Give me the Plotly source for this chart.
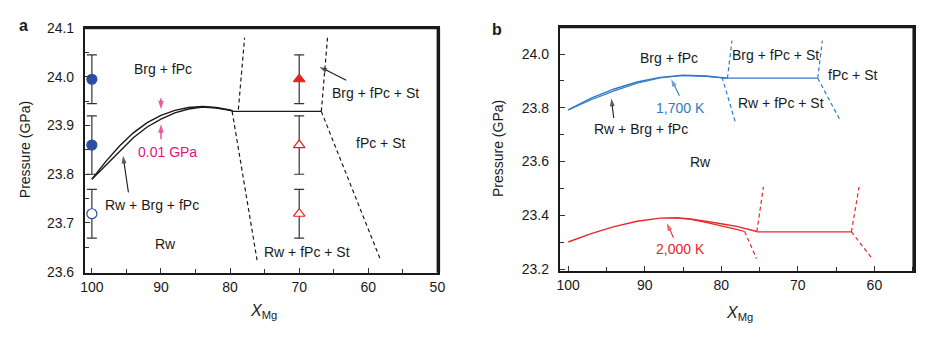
import plotly.graph_objects as go

# ---------------- Panel a data ----------------
A_CURVE_X = [100, 98, 96, 94, 92, 90, 88, 86, 84, 82, 80, 79.6]
A_UPPER_Y = [23.790, 23.826, 23.858, 23.885, 23.906, 23.921, 23.931, 23.937, 23.939, 23.937, 23.932, 23.930]
A_LOWER_Y = [23.790, 23.818, 23.848, 23.875, 23.897, 23.913, 23.926, 23.934, 23.938, 23.936, 23.931, 23.929]
A_FLAT_X = [79.6, 66.8]
A_FLAT_Y = [23.929, 23.929]
A_DASH = [  # (x0, y0, x1, y1)
    (78.8, 23.933, 77.9, 24.080),
    (79.7, 23.929, 76.1, 23.624),
    (66.8, 23.929, 65.9, 24.080),
    (66.8, 23.929, 58.3, 23.627),
]
A_BRG_X = [100, 100]
A_BRG_Y = [23.995, 23.860]
A_BRG_ERR = [0.050, 0.060]
A_RW_X = [100]
A_RW_Y = [23.719]
A_RW_ERR = [0.050]
A_ST_X = [70]
A_ST_Y = [23.995]
A_ST_ERR = [0.050]
A_NOST_X = [70, 70]
A_NOST_Y = [23.860, 23.719]
A_NOST_ERR = [0.060, 0.050]

# ---------------- Panel b data ----------------
B_BLUE_X = [100, 97, 94, 91, 88, 85, 82, 80, 79.2]
B_BLUE_UP = [23.792, 23.836, 23.870, 23.896, 23.913, 23.921, 23.918, 23.912, 23.910]
B_BLUE_LO = [23.792, 23.830, 23.863, 23.891, 23.911, 23.920, 23.917, 23.912, 23.910]
B_BLUE_FLAT_X = [79.2, 67.4]
B_BLUE_FLAT_Y = [23.910, 23.910]
B_BLUE_DASH = [
    (79.2, 23.910, 78.6, 24.050),
    (79.9, 23.914, 78.2, 23.750),
    (67.4, 23.910, 66.8, 24.050),
    (67.4, 23.910, 64.4, 23.750),
]
B_RED_UP_X = [100, 97, 94, 91, 88, 86, 84, 82, 80, 78, 76.5, 75.35]
B_RED_UP_Y = [23.301, 23.332, 23.358, 23.378, 23.390, 23.391, 23.387, 23.379, 23.369, 23.359, 23.348, 23.340]
B_RED_LO_X = [86, 84, 82, 80, 78, 76.95]
B_RED_LO_Y = [23.391, 23.385, 23.374, 23.362, 23.348, 23.340]
B_RED_FLAT_X = [75.35, 63.0]
B_RED_FLAT_Y = [23.339, 23.339]
B_RED_DASH = [
    (75.35, 23.340, 74.5, 23.506),
    (76.95, 23.340, 75.4, 23.240),
    (63.0, 23.339, 62.0, 23.506),
    (63.0, 23.339, 60.2, 23.236),
]

BLACK = "#1a1a1a"
BLUE_PT = "#2b4ea2"
RED_PT = "#e3231f"
BLUE_LN = "#2f7ac6"
RED_LN = "#e8262a"
MAGENTA = "#e0157a"
FONT = "Liberation Sans, Arial, sans-serif"
DASH = "4px,3px"

fig = go.Figure()

def line(x, y, color, xa, ya, width=1.3, dash=None):
    fig.add_trace(go.Scatter(x=x, y=y, mode="lines", xaxis=xa, yaxis=ya,
                             line=dict(color=color, width=width, dash=dash),
                             hoverinfo="skip", showlegend=False))

# Panel a lines
line(A_CURVE_X, A_UPPER_Y, BLACK, "x", "y", 1.4)
line(A_CURVE_X, A_LOWER_Y, BLACK, "x", "y", 1.4)
line(A_FLAT_X, A_FLAT_Y, BLACK, "x", "y", 1.4)
for x0, y0, x1, y1 in A_DASH:
    line([x0, x1], [y0, y1], BLACK, "x", "y", 1.2, DASH)

def pts(x, y, err, symbol, fill, edge):
    fig.add_trace(go.Scatter(x=x, y=y, mode="markers", xaxis="x", yaxis="y",
                             marker=dict(symbol=symbol, size=10, color=fill,
                                         line=dict(color=edge, width=1.2)),
                             error_y=dict(type="data", array=err, visible=True,
                                          color="#333333", thickness=1.2, width=5),
                             hoverinfo="skip", showlegend=False))

pts(A_BRG_X, A_BRG_Y, A_BRG_ERR, "circle", BLUE_PT, BLUE_PT)
pts(A_RW_X, A_RW_Y, A_RW_ERR, "circle", "white", BLUE_PT)
pts(A_ST_X, A_ST_Y, A_ST_ERR, "triangle-up", RED_PT, RED_PT)
pts(A_NOST_X, A_NOST_Y, A_NOST_ERR, "triangle-up", "white", RED_PT)

# Panel b lines
line(B_BLUE_X, B_BLUE_UP, BLUE_LN, "x2", "y2", 1.4)
line(B_BLUE_X, B_BLUE_LO, BLUE_LN, "x2", "y2", 1.1)
line(B_BLUE_FLAT_X, B_BLUE_FLAT_Y, BLUE_LN, "x2", "y2", 1.3)
for x0, y0, x1, y1 in B_BLUE_DASH:
    line([x0, x1], [y0, y1], BLUE_LN, "x2", "y2", 1.2, DASH)
line(B_RED_UP_X, B_RED_UP_Y, RED_LN, "x2", "y2", 1.4)
line(B_RED_LO_X, B_RED_LO_Y, RED_LN, "x2", "y2", 1.1)
line(B_RED_FLAT_X, B_RED_FLAT_Y, RED_LN, "x2", "y2", 1.3)
for x0, y0, x1, y1 in B_RED_DASH:
    line([x0, x1], [y0, y1], RED_LN, "x2", "y2", 1.2, DASH)

# ---------------- Pointer arrows (line + arrow-head marker) ----------------
def arrow(x, y, ax, ay, xa, ya, color=BLACK, size=8):
    fig.add_trace(go.Scatter(x=[ax, x], y=[ay, y], mode="lines+markers",
                             xaxis=xa, yaxis=ya,
                             line=dict(color=color, width=1.1),
                             marker=dict(symbol=["circle", "arrow"], size=[0, size],
                                         angleref="previous", color=color,
                                         standoff=[0, size / 2],
                                         line=dict(width=0)),
                             hoverinfo="skip", showlegend=False))

arrow(95.57, 23.846, 94.71, 23.763, "x", "y")
arrow(67.57, 24.024, 63.19, 23.993, "x", "y")
arrow(90.0, 23.924, 90.0, 23.956, "x", "y", MAGENTA, 9)
arrow(90.0, 23.912, 90.0, 23.872, "x", "y", MAGENTA, 9)
arrow(86.76, 23.920, 85.47, 23.845, "x2", "y2", BLUE_LN)
arrow(94.41, 23.849, 94.06, 23.762, "x2", "y2")
arrow(87.32, 23.384, 86.25, 23.317, "x2", "y2", RED_LN)

# ---------------- Text labels ----------------
ann = []

def label(text, x, y, xr, yr, color=BLACK, size=14):
    ann.append(dict(text=text, x=x, y=y, xref=xr, yref=yr, showarrow=False,
                    xanchor="center", yanchor="middle",
                    font=dict(family=FONT, size=size, color=color)))

label("Brg + fPc", 89.7, 24.017, "x", "y")
label("0.01 GPa", 89.0, 23.845, "x", "y", MAGENTA)
label("Rw + Brg + fPc", 91.3, 23.737, "x", "y")
label("Rw", 89.3, 23.657, "x", "y")
label("Rw + fPc + St", 68.8, 23.640, "x", "y")
label("fPc + St", 58.1, 23.865, "x", "y")
label("Brg + fPc + St", 58.9, 23.966, "x", "y")

label("Brg + fPc", 86.8, 23.985, "x2", "y2")
label("1,700 K", 85.3, 23.798, "x2", "y2", BLUE_LN)
label("Rw + Brg + fPc", 90.5, 23.720, "x2", "y2")
label("Rw", 82.7, 23.597, "x2", "y2")
label("2,000 K", 85.3, 23.276, "x2", "y2", RED_LN)
label("Brg + fPc + St", 72.9, 23.996, "x2", "y2")
label("fPc + St", 62.8, 23.922, "x2", "y2")
label("Rw + fPc + St", 72.2, 23.818, "x2", "y2")

# panel letters and axis titles (paper coords from pixel positions)
W, H = 935, 338
def paper(px, py, text, size=14, **kw):
    ann.append(dict(text=text, x=px / W, y=1 - py / H, xref="paper", yref="paper",
                    xanchor="center", yanchor="middle", showarrow=False,
                    font=dict(family=FONT, size=size, color=BLACK), **kw))

paper(19, 18, "<b>a</b>", 16)
paper(498, 23, "<b>b</b>", 16)
paper(21, 148, "Pressure (GPa)", 14, textangle=-90)
paper(500, 147, "Pressure (GPa)", 14, textangle=-90)
paper(262, 318, "<i>X</i><sub>Mg</sub>", 16)
paper(744, 320, "<i>X</i><sub>Mg</sub>", 16)

# ---------------- Axes ----------------
common = dict(showline=True, linecolor=BLACK, linewidth=2, mirror=True,
              ticks="inside", ticklen=5, tickwidth=1.2, tickcolor="#333333",
              showgrid=False, zeroline=False,
              tickfont=dict(family=FONT, size=14, color=BLACK))

xa = dict(common, domain=[81 / W, 439 / W], range=[101, 49.86], anchor="y",
          tickvals=[100, 90, 80, 70, 60, 50],
          minor=dict(tickvals=[95, 85, 75, 65, 55], ticks="inside", ticklen=4,
                     tickcolor="#333333", tickwidth=1.2))
ya = dict(common, domain=[1 - 277 / H, 1 - 21 / H], range=[23.598, 24.1], anchor="x",
          tickvals=[23.6, 23.7, 23.8, 23.9, 24.0, 24.1], tickformat=".1f",
          ticklabelstandoff=6,
          minor=dict(tickvals=[23.65, 23.75, 23.85, 23.95, 24.05], ticks="inside",
                     ticklen=4, tickcolor="#333333", tickwidth=1.2))
xb = dict(common, domain=[562 / W, 921 / W], range=[101.1, 54.8], anchor="y2",
          tickvals=[100, 90, 80, 70, 60],
          minor=dict(tickvals=[95, 85, 75, 65, 55], ticks="inside", ticklen=4,
                     tickcolor="#333333", tickwidth=1.2))
yb = dict(common, domain=[1 - 275 / H, 1 - 20 / H], range=[23.194, 24.1], anchor="x2",
          tickvals=[23.2, 23.4, 23.6, 23.8, 24.0], tickformat=".1f",
          ticklabelstandoff=6,
          minor=dict(tickvals=[23.3, 23.5, 23.7, 23.9, 24.1], ticks="inside",
                     ticklen=4, tickcolor="#333333", tickwidth=1.2))

shapes = []
for xr in ("x", "x2"):
    yr = "y" if xr == "x" else "y2"
    shapes.append(dict(type="line", xref=f"{xr} domain", yref=f"{yr} domain",
                       x0=1, x1=1, y0=0, y1=1, line=dict(color=BLACK, width=3.5)))
    shapes.append(dict(type="line", xref=f"{xr} domain", yref=f"{yr} domain",
                       x0=0, x1=1, y0=1, y1=1, line=dict(color=BLACK, width=2.5)))

fig.update_layout(width=W, height=H, autosize=False,
                  margin=dict(l=0, r=0, t=0, b=0),
                  paper_bgcolor="white", plot_bgcolor="white",
                  xaxis=xa, yaxis=ya, xaxis2=xb, yaxis2=yb,
                  annotations=ann, shapes=shapes, showlegend=False,
                  font=dict(family=FONT, color=BLACK))

fig.write_html("out.html")
